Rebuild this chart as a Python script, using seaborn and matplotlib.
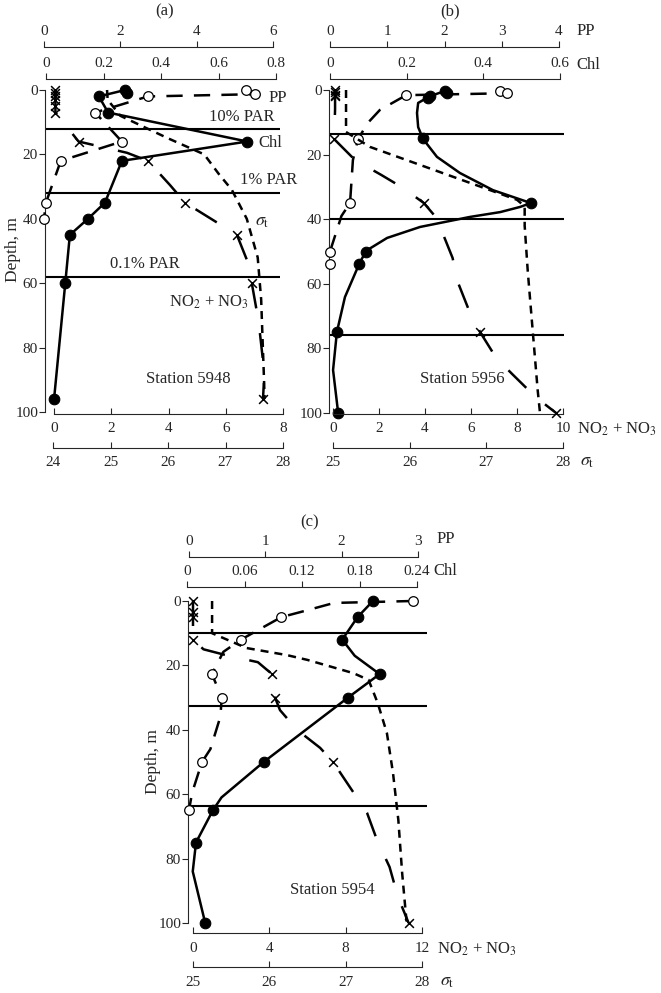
import matplotlib
matplotlib.use("Agg")
import matplotlib.pyplot as plt
import seaborn as sns

sns.set_style("ticks")
plt.rcParams["font.family"] = ["Liberation Serif", "DejaVu Serif"]
plt.rcParams["mathtext.fontset"] = "stix"

# ---- Station 5948 (a) ----
chl_a_depth = [1, 0, 2, 7, 16, 22, 35, 40, 45, 60, 96]
chl_a = [0.28, 0.275, 0.184, 0.216, 0.70, 0.264, 0.205, 0.146, 0.083, 0.067, 0.028]
pp_a_depth = [0, 1.3, 2, 7, 16, 22, 35, 40]
pp_a = [5.29, 5.53, 2.72, 1.34, 2.04, 0.44, 0.05, 0.0]
no3_a_depth = [0, 1, 2, 3, 5, 7, 16, 22, 35, 45, 60, 96]
no3_a = [0.05, 0.05, 0.05, 0.05, 0.05, 0.05, 0.86, 3.28, 4.58, 6.39, 6.91, 7.3]
no3_a_line_depth = [0, 7, 16, 19.5, 22, 29.5, 35, 39.8, 45, 52.8, 60, 72, 88, 96]
no3_a_line = [0.05, 0.05, 0.86, 2.55, 3.28, 4.05, 4.58, 5.45, 6.39, 6.74, 6.91, 7.15, 7.35, 7.3]
sig_a_depth = [0, 3, 8, 15, 20, 26, 31, 40, 52, 65, 90, 96]
sig_a = [24.94, 24.95, 25.17, 26.0, 26.63, 26.88, 27.11, 27.37, 27.56, 27.62, 27.67, 27.68]
par_a = [12, 32, 58]

# ---- Station 5956 (b) ----
chl_b_depth = [0.3, 1, 2, 2.5, 15, 35, 50, 54, 75, 100]
chl_b = [0.30, 0.305, 0.26, 0.255, 0.243, 0.525, 0.094, 0.076, 0.018, 0.021]
chl_b_line_depth = [0.3, 1.9, 4.0, 7.1, 11.5, 15.2, 20.7, 25.7, 31.0, 35.0, 36.2, 37.8,
                    39.3, 42.4, 45.8, 49.8, 53.9, 64.1, 74.9, 86.7, 99.7]
chl_b_line = [0.300, 0.261, 0.230, 0.227, 0.230, 0.243, 0.279, 0.339, 0.425, 0.524, 0.496, 0.444,
              0.365, 0.235, 0.149, 0.094, 0.076, 0.039, 0.018, 0.008, 0.021]
pp_b_depth = [0.3, 1.0, 1.6, 15.2, 35, 50, 54]
pp_b = [2.97, 3.09, 1.33, 0.49, 0.35, 0.0, 0.0]
pp_b_line_depth = [0.3, 1.0, 1.6, 6.2, 10.2, 15.2, 21.7, 35, 39, 50, 54]
pp_b_line = [2.97, 3.09, 1.33, 0.87, 0.66, 0.49, 0.40, 0.35, 0.20, 0.0, 0.0]
no3_b_depth = [0, 0.7, 1.4, 2, 15.2, 35, 75, 100]
no3_b = [0.09, 0.09, 0.09, 0.09, 0.05, 3.95, 6.4, 9.7]
no3_b_line_depth = [0, 6, 15.2, 21.7, 26.3, 30.3, 35, 39.6, 52, 59, 68, 75, 83, 88, 95, 100]
no3_b_line = [0.09, 0.09, 0.05, 0.96, 2.1, 3.04, 3.95, 4.5, 5.2, 5.4, 5.9, 6.4, 7.1, 7.8, 8.8, 9.7]
sig_b_depth = [0, 13, 17.6, 24, 34, 36, 42, 56, 76, 93, 100]
sig_b = [25.17, 25.17, 25.48, 26.23, 27.4, 27.5, 27.5, 27.54, 27.61, 27.67, 27.7]
par_b = [13.6, 40, 76]

# ---- Station 5954 (c) ----
chl_c_depth = [0, 5, 12, 22.7, 30, 50, 65, 75, 100]
chl_c = [0.194, 0.178, 0.162, 0.201, 0.168, 0.080, 0.027, 0.0094, 0.019]
chl_c_line_depth = [0, 5, 12, 17, 22.7, 30, 50, 61, 65, 75, 84, 100]
chl_c_line = [0.194, 0.178, 0.162, 0.175, 0.201, 0.168, 0.080, 0.036, 0.027, 0.0094, 0.006, 0.019]
pp_c_depth = [0, 5, 12, 22.7, 30, 50, 65]
pp_c = [2.93, 1.21, 0.68, 0.30, 0.43, 0.17, 0.0]
pp_c_line_depth = [0, 0.6, 3.5, 5, 12, 15.8, 22.7, 30, 36, 46, 50, 59.6, 65]
pp_c_line = [2.93, 1.9, 1.45, 1.21, 0.68, 0.45, 0.30, 0.43, 0.41, 0.28, 0.17, 0.04, 0.0]
no3_c_depth = [0, 3.5, 5, 12, 22.7, 30, 50, 100]
no3_c = [0.0, 0.0, 0.0, 0.0, 4.14, 4.3, 7.34, 11.3]
no3_c_line_depth = [0, 8, 12, 15, 17, 19, 22.7, 24.5, 30, 33.9, 40, 45.6, 50, 59.3, 65.8,
                    74.2, 82.6, 91.9, 100]
no3_c_line = [0.0, 0.0, 0.0, 0.55, 1.85, 3.4, 4.14, 4.15, 4.3, 4.56, 5.45, 6.66, 7.34, 8.39, 9.12,
              9.64, 10.3, 10.74, 11.3]
sig_c_depth = [0, 10, 14.6, 16.8, 18.3, 22.4, 24.5, 31.7, 41, 53.4, 68, 84.5, 95, 100]
sig_c = [25.25, 25.25, 25.7, 26.23, 26.5, 27.1, 27.3, 27.42, 27.54, 27.62, 27.69, 27.74, 27.78, 27.8]
par_c = [10, 32.6, 63.7]

depth_ticks = [0, 20, 40, 60, 80, 100]

W, H = 661, 993
fig = plt.figure(figsize=(W / 100, H / 100), dpi=100)

LW = 1.8
DASH_PP = (0, (6.5, 4.5))
DASH_NO3 = (0, (10, 10))
DASH_SIG = (0, (3.2, 2.4))


def box(x0, x1, y0, y1):
    return [x0 / W, 1 - y1 / H, (x1 - x0) / W, (y1 - y0) / H]


def ftext(x, y, s, **kw):
    kw.setdefault("fontsize", 12)
    kw.setdefault("ha", "center")
    kw.setdefault("va", "center")
    fig.text(x / W, 1 - y / H, s, **kw)


def var_axis(main, x0, x1, y0, y1, lim, ticks, labels, side, off_px, pad):
    ax = fig.add_axes(box(x0, x1, y0, y1), sharey=main)
    ax.patch.set_visible(False)
    for s in ax.spines.values():
        s.set_visible(False)
    ax.spines[side].set_visible(True)
    ax.spines[side].set_position(("outward", off_px * 0.72))
    ax.spines[side].set_linewidth(0.8)
    ax.set_xlim(*lim)
    ax.set_xticks(ticks, labels)
    if side == "top":
        ax.xaxis.tick_top()
        d = "out"
    else:
        ax.xaxis.tick_bottom()
        d = "in"
    ax.tick_params(axis="x", direction=d, length=4, width=0.8, labelsize=11, pad=pad)
    ax.tick_params(axis="y", left=False, right=False, labelleft=False)
    return ax


def draw_line(ax, vals, depth, ls):
    sns.lineplot(x=vals, y=depth, sort=False, estimator=None, orient="y", ax=ax,
                 color="black", lw=LW, linestyle=ls, clip_on=False)


def panel(g, d):
    yt, yb = g["y"]
    main = fig.add_axes(box(g["xl"], g["xr"], yt, yb))
    main.patch.set_visible(False)
    for s in ["top", "right", "bottom"]:
        main.spines[s].set_visible(False)
    main.spines["left"].set_linewidth(0.8)
    main.set_xlim(0, 1)
    main.set_xticks([])
    for p in d["par"]:
        main.axhline(p, color="black", lw=1.5)

    pp = var_axis(main, *g["pp"], yt, yb, (0, g["pp_max"]), g["pp_ticks"], g["pp_labels"],
                  "top", yt - g["pp_y"], 2.5)
    chl = var_axis(main, *g["chl"], yt, yb, (0, g["chl_max"]), g["chl_ticks"], g["chl_labels"],
                   "top", yt - g["chl_y"], 2.5)
    no3 = var_axis(main, *g["no3"], yt, yb, (0, g["no3_max"]), g["no3_ticks"],
                   [str(t) for t in g["no3_ticks"]], "bottom", g["no3_y"] - yb, g["pad_b"])
    sig = var_axis(main, *g["sig"], yt, yb, g["sig_lim"], g["sig_ticks"],
                   [str(t) for t in g["sig_ticks"]], "bottom", g["sig_y"] - yb, g["pad_b"])

    draw_line(sig, d["sig"], d["sig_depth"], DASH_SIG)
    draw_line(no3, d["no3_line"], d["no3_line_depth"], DASH_NO3)
    draw_line(pp, d["pp_line"], d["pp_line_depth"], DASH_PP)
    draw_line(chl, d["chl_line"], d["chl_line_depth"], "-")

    sns.scatterplot(x=d["no3"], y=d["no3_depth"], ax=no3, marker="x", s=40, color="black",
                    linewidth=1.1, zorder=5, clip_on=False)
    sns.scatterplot(x=d["pp"], y=d["pp_depth"], ax=pp, marker="o", s=48, color="white",
                    edgecolor="black", linewidth=0.9, zorder=5, clip_on=False)
    sns.scatterplot(x=d["chl"], y=d["chl_depth"], ax=chl, marker="o", s=58, color="black",
                    edgecolor="black", linewidth=0.8, zorder=6, clip_on=False)

    main.set_ylim(100, 0)
    main.set_yticks(depth_ticks)
    main.tick_params(axis="y", direction="out", length=4, width=0.8, labelsize=11, pad=1)
    main.set_xlabel("")
    main.set_ylabel("")
    for ax in (pp, chl, no3, sig):
        ax.set_xlabel("")
        ax.set_ylabel("")
    return main


geo_a = dict(xl=45, xr=280, y=(90, 412), pp=(44, 273), pp_y=47, pp_max=6, pp_ticks=[0, 2, 4, 6],
             pp_labels=["0", "2", "4", "6"], chl=(46, 276), chl_y=79, chl_max=0.8,
             chl_ticks=[0, 0.2, 0.4, 0.6, 0.8], chl_labels=["0", "0.2", "0.4", "0.6", "0.8"],
             no3=(54, 283), no3_y=414, no3_max=8, no3_ticks=[0, 2, 4, 6, 8],
             sig=(53, 283), sig_y=448, sig_lim=(24, 28), sig_ticks=[24, 25, 26, 27, 28], pad_b=5.5)
geo_b = dict(xl=329, xr=564, y=(90, 413), pp=(330, 559), pp_y=47, pp_max=4, pp_ticks=[0, 1, 2, 3, 4],
             pp_labels=["0", "1", "2", "3", "4"], chl=(330, 560), chl_y=79, chl_max=0.6,
             chl_ticks=[0, 0.2, 0.4, 0.6], chl_labels=["0", "0.2", "0.4", "0.6"],
             no3=(333, 563), no3_y=414, no3_max=10, no3_ticks=[0, 2, 4, 6, 8, 10],
             sig=(333, 563), sig_y=448, sig_lim=(25, 28), sig_ticks=[25, 26, 27, 28], pad_b=5.5)
geo_c = dict(xl=188, xr=427, y=(601, 923), pp=(189, 418), pp_y=557, pp_max=3, pp_ticks=[0, 1, 2, 3],
             pp_labels=["0", "1", "2", "3"], chl=(187, 417), chl_y=587, chl_max=0.24,
             chl_ticks=[0, 0.06, 0.12, 0.18, 0.24], chl_labels=["0", "0.06", "0.12", "0.18", "0.24"],
             no3=(193, 422), no3_y=933, no3_max=12, no3_ticks=[0, 4, 8, 12],
             sig=(193, 422), sig_y=967, sig_lim=(25, 28), sig_ticks=[25, 26, 27, 28], pad_b=6.5)

data_a = dict(chl=chl_a, chl_depth=chl_a_depth, chl_line=chl_a, chl_line_depth=chl_a_depth,
              pp=pp_a, pp_depth=pp_a_depth, pp_line=pp_a, pp_line_depth=pp_a_depth,
              no3=no3_a, no3_depth=no3_a_depth, no3_line=no3_a_line, no3_line_depth=no3_a_line_depth,
              sig=sig_a, sig_depth=sig_a_depth, par=par_a)
data_b = dict(chl=chl_b, chl_depth=chl_b_depth, chl_line=chl_b_line, chl_line_depth=chl_b_line_depth,
              pp=pp_b, pp_depth=pp_b_depth, pp_line=pp_b_line, pp_line_depth=pp_b_line_depth,
              no3=no3_b, no3_depth=no3_b_depth, no3_line=no3_b_line, no3_line_depth=no3_b_line_depth,
              sig=sig_b, sig_depth=sig_b_depth, par=par_b)
data_c = dict(chl=chl_c, chl_depth=chl_c_depth, chl_line=chl_c_line, chl_line_depth=chl_c_line_depth,
              pp=pp_c, pp_depth=pp_c_depth, pp_line=pp_c_line, pp_line_depth=pp_c_line_depth,
              no3=no3_c, no3_depth=no3_c_depth, no3_line=no3_c_line, no3_line_depth=no3_c_line_depth,
              sig=sig_c, sig_depth=sig_c_depth, par=par_c)

panel(geo_a, data_a)
panel(geo_b, data_b)
panel(geo_c, data_c)

NO = r"NO$_2$ + NO$_3$"
SIG = r"$\sigma_\mathrm{t}$"

# panel (a) annotations
ftext(165, 11, "(a)")
ftext(278, 98, "PP")
ftext(242, 117, "10% PAR")
ftext(270, 143, "Chl")
ftext(269, 180, "1% PAR")
ftext(262, 221, SIG, fontsize=13)
ftext(145, 264, "0.1% PAR")
ftext(209, 302, NO)
ftext(188, 379, "Station 5948")
ftext(13, 250, "Depth, m", rotation=90, fontsize=12.5)

# panel (b)
ftext(450, 11, "(b)")
ftext(577, 31, "PP", ha="left")
ftext(576, 65, "Chl", ha="left")
ftext(577, 429, NO, ha="left")
ftext(580, 462, SIG, ha="left", fontsize=13)
ftext(462, 379, "Station 5956")

# panel (c)
ftext(310, 522, "(c)")
ftext(437, 539, "PP", ha="left")
ftext(433, 571, "Chl", ha="left")
ftext(437, 949, NO, ha="left")
ftext(440, 982, SIG, ha="left", fontsize=13)
ftext(332, 890, "Station 5954")
ftext(153, 762, "Depth, m", rotation=90, fontsize=12.5)

fig.savefig("out.png", dpi=100)
